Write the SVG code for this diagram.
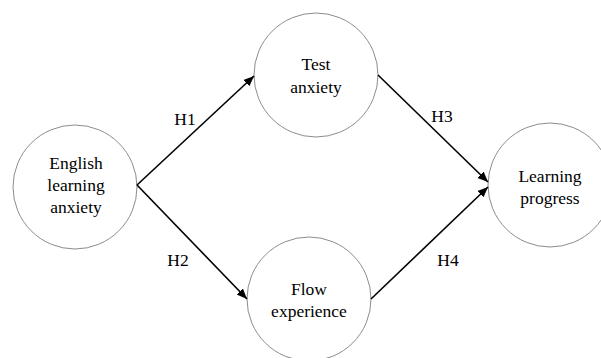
<svg xmlns="http://www.w3.org/2000/svg" width="601" height="358" viewBox="0 0 601 358">
<style>
circle { fill: #ffffff; stroke: #8c8c8c; stroke-width: 1; }
text { font-family: "Liberation Serif", "Times New Roman", serif; font-size: 17.5px; fill: #000000; text-anchor: middle; }
line { stroke: #000000; stroke-width: 1.6; }
</style>
<defs>
<marker id="ah" viewBox="0 0 10 10" refX="10" refY="5" markerWidth="6.5" markerHeight="6.5" markerUnits="strokeWidth" orient="auto">
<path d="M0,0.8 L10,5 L0,9.2 Z" fill="#000"/>
</marker>
</defs>
<rect width="601" height="358" fill="#fff"/>
<g id="n-english">
<circle cx="75" cy="187" r="62"/>
<text x="76" y="169">English</text>
<text x="76" y="191">learning</text>
<text x="76" y="213">anxiety</text>
</g>
<g id="n-test">
<circle cx="316" cy="75" r="62"/>
<text x="316" y="70">Test</text>
<text x="316" y="93">anxiety</text>
</g>
<g id="n-flow">
<circle cx="309" cy="299" r="62"/>
<text x="309" y="295">Flow</text>
<text x="309" y="317">experience</text>
</g>
<g id="n-progress">
<circle cx="550" cy="185" r="62"/>
<text x="550" y="182">Learning</text>
<text x="550" y="204">progress</text>
</g>
<g id="connectors">
<line x1="137" y1="185" x2="254" y2="76" marker-end="url(#ah)"/>
<line x1="137" y1="185" x2="247" y2="299" marker-end="url(#ah)"/>
<line x1="378" y1="75" x2="488" y2="182" marker-end="url(#ah)"/>
<line x1="371" y1="299" x2="488" y2="187" marker-end="url(#ah)"/>
<text x="185" y="125">H1</text>
<text x="178" y="266">H2</text>
<text x="442" y="122">H3</text>
<text x="448" y="266">H4</text>
</g>
</svg>
